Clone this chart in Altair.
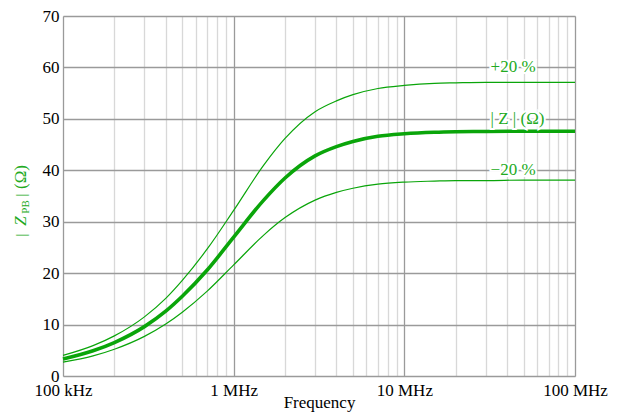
import altair as alt
import pandas as pd

# ---- data ----
freq_mhz = [0.1, 0.15, 0.2, 0.3, 0.4, 0.5, 0.7, 1, 1.5, 2, 3, 4, 5, 7, 10, 15, 20, 30, 50, 100]
z_nominal = [3.3, 4.9, 6.5, 9.6, 12.6, 15.5, 20.6, 27.0, 34.2, 38.5, 42.8, 44.6, 45.6, 46.6, 47.1, 47.4, 47.5, 47.55, 47.6, 47.6]
z_plus20 = [4.0, 5.9, 7.8, 11.5, 15.1, 18.6, 24.7, 32.2, 41.0, 46.2, 51.4, 53.5, 54.7, 55.9, 56.5, 56.9, 57.0, 57.1, 57.1, 57.1]
z_minus20 = [2.7, 3.9, 5.2, 7.7, 10.1, 12.4, 16.5, 21.6, 27.4, 30.8, 34.2, 35.7, 36.5, 37.3, 37.7, 37.9, 38.0, 38.0, 38.1, 38.1]

label_texts = ["+20 %", "| Z | (Ω)", "−20 %"]
label_y = [60, 50, 40]
label_x_mhz = [32, 32, 32]

decade_vals = [0.1, 1, 10, 100]
decade_labels = ["100 kHz", "1 MHz", "10 MHz", "100 MHz"]
minor_mult = [1, 2, 3, 4, 5, 6, 7, 8, 9]
y_ticks = [0, 10, 20, 30, 40, 50, 60, 70]

GREEN = "#0aa50a"
TEXT_GREEN = "#22aa22"
FONT = "Liberation Serif"

labels_df = pd.DataFrame({"text": label_texts, "f": label_x_mhz, "z": label_y})

x_values = []
for d in decade_vals[:-1]:
    for m in minor_mult:
        x_values.append(round(d * m, 6))
x_values.append(decade_vals[-1])

label_expr = " : ".join(
    [f"datum.value == {v} ? '{t}'" for v, t in zip(decade_vals, decade_labels)]
) + " : ''"
decade_test = "indexof([" + ",".join(str(v) for v in decade_vals) + "], datum.value) >= 0"

xscale = alt.Scale(type="log", domain=[0.1, 100], nice=False)
yscale = alt.Scale(domain=[0, 70], nice=False)

x_axis = alt.Axis(
    values=x_values,
    labelExpr=label_expr,
    labelOverlap=False,
    labelFlush=False,
    labelBaseline="alphabetic",
    labelPadding=19,
    labelFont=FONT,
    labelFontSize=17,
    labelColor="black",
    title="Frequency",
    titleFont=FONT,
    titleFontSize=17,
    titleFontWeight="normal",
    titleColor="black",
    titleBaseline="alphabetic",
    titleY=31,
    grid=True,
    gridColor={"condition": {"test": decade_test, "value": "#9a9a9a"}, "value": "#d8d8d8"},
    gridWidth=1.3,
    ticks=False,
    tickSize=0,
    domain=False,
)

y_axis = alt.Axis(
    values=y_ticks,
    labelFont=FONT,
    labelFontSize=17,
    labelColor="black",
    labelPadding=4,
    title=None,
    grid=True,
    gridColor="#9a9a9a",
    gridWidth=1.3,
    ticks=False,
    tickSize=0,
    domain=False,
)


def curve(vals, width, with_axes=False):
    d = pd.DataFrame({"f": freq_mhz, "z": vals})
    if with_axes:
        x = alt.X("f:Q", scale=xscale, axis=x_axis)
        y = alt.Y("z:Q", scale=yscale, axis=y_axis)
    else:
        x = alt.X("f:Q", scale=xscale)
        y = alt.Y("z:Q", scale=yscale)
    return alt.Chart(d).mark_line(
        interpolate="monotone", color=GREEN, strokeWidth=width
    ).encode(x=x, y=y)


line_plus = curve(z_plus20, 1.2, with_axes=True)
line_minus = curve(z_minus20, 1.2)
line_nom = curve(z_nominal, 3.6)

halo = alt.Chart(labels_df).mark_text(
    align="left", baseline="middle", font=FONT, fontSize=17,
    stroke="white", strokeWidth=4, fill="white",
).encode(x=alt.X("f:Q", scale=xscale), y=alt.Y("z:Q", scale=yscale), text="text:N")

label_text = alt.Chart(labels_df).mark_text(
    align="left", baseline="middle", font=FONT, fontSize=17, color=TEXT_GREEN,
).encode(x=alt.X("f:Q", scale=xscale), y=alt.Y("z:Q", scale=yscale), text="text:N")

# y-axis title pieces: | Z_PB | (Ω)
title_df = pd.DataFrame({"t": [0]})


def title_piece(txt, px, py, size, style="normal"):
    return alt.Chart(title_df).mark_text(
        text=txt, angle=270, align="center", baseline="middle",
        font=FONT, fontSize=size, fontStyle=style, color=TEXT_GREEN,
    ).encode(x=alt.value(px), y=alt.value(py))


ytitle = [
    title_piece("|", -42, 219, 15),
    title_piece("Z", -42, 205, 17, "italic"),
    title_piece("PB", -37, 191, 11),
    title_piece("|", -42, 179, 15),
    title_piece("(Ω)", -42, 161, 17),
]

chart = alt.layer(line_plus, line_minus, line_nom, halo, label_text, *ytitle).properties(
    width=512,
    height=360,
    padding={"left": 55, "top": 8, "right": 40, "bottom": 36},
    autosize=alt.AutoSizeParams(type="none"),
).configure_view(stroke="black", strokeWidth=1.5).configure(background="white")

chart.save("out.html", embed_options={"renderer": "svg", "actions": False})
